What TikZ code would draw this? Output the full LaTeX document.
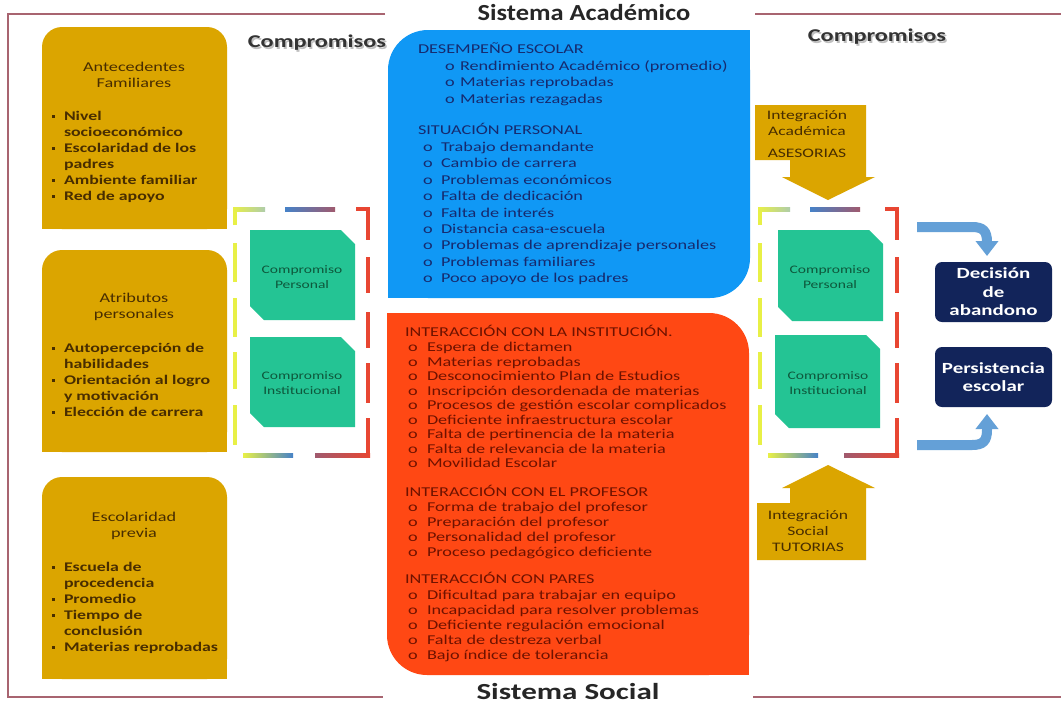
\documentclass[tikz,border=0pt]{standalone}
\usepackage{fontspec}
\setmainfont{Carlito}
\newfontfamily\bodyf{Carlito}[FakeStretch=1.35]
\newfontfamily\headf{Carlito}[FakeStretch=1.15]
\usetikzlibrary{arrows.meta}
\definecolor{goldc}{RGB}{219,165,0}
\definecolor{goldtext}{RGB}{72,45,0}
\definecolor{bluec}{RGB}{16,152,245}
\definecolor{bluetext}{RGB}{22,42,110}
\definecolor{redc}{RGB}{255,72,20}
\definecolor{redtext}{RGB}{110,18,0}
\definecolor{greenc}{RGB}{36,196,148}
\definecolor{greentext}{RGB}{14,88,60}
\definecolor{navyc}{RGB}{18,36,90}
\definecolor{arrowc}{RGB}{100,160,215}
\definecolor{framec}{RGB}{168,100,112}
\definecolor{dyel}{RGB}{232,240,70}
\definecolor{dred}{RGB}{232,70,50}
\definecolor{dblue}{RGB}{70,130,200}
\definecolor{dmauve}{RGB}{160,90,110}
\definecolor{dgg}{RGB}{175,205,170}
\definecolor{dcyan}{RGB}{120,200,210}
\tikzset{
  every node/.style={inner sep=0pt, outer sep=0pt},
  goldtxt/.style={text=goldtext, font=\bodyf\bfseries\fontsize{13.2}{15}\selectfont, anchor=base west},
  goldbul/.style={fill=goldtext, minimum size=3.6pt},
  goldtitle/.style={text=goldtext, font=\bodyf\fontsize{13.5}{16.5}\selectfont, align=center},
  bluetxt/.style={text=bluetext, font=\bodyf\fontsize{13.5}{15}\selectfont, anchor=base west},
  redtxt/.style={text=redtext, font=\bodyf\fontsize{13.5}{15}\selectfont, anchor=base west},
  greentxt/.style={text=greentext, font=\bodyf\fontsize{11.5}{14.5}\selectfont, align=center},
  calltxt/.style={text=goldtext, font=\bodyf\fontsize{13}{16}\selectfont, align=center},
  navybox/.style={fill=navyc, rounded corners=7pt, minimum width=117pt, minimum height=60pt,
     text=white, font=\bodyf\bfseries\fontsize{15.5}{18.5}\selectfont, align=center},
  bigtitle/.style={font=\headf\bfseries\fontsize{23}{26}\selectfont, text=black!85},
  comptitle/.style={font=\bodyf\bfseries\fontsize{18}{20}\selectfont, text=black!80},
  blarrow/.style={draw=arrowc, line width=10pt, -{Triangle[width=22pt,length=15pt]}},
  dashln/.style={line width=4pt},
}
\newcommand\goldlines[3]{%
  \foreach \t/\b [count=\i] in {#3} {
    \node[goldtxt] (#1\i) at (64,{#2+16*(\i-1)+4.5}) {\t};
    \ifnum\b=1 \node[goldbul] (#1b\i) at (53.5,{#2+16*(\i-1)+0.5}) {};\fi
  }}
\newcommand\olist[7]{%
  \foreach \t [count=\i] in {#6} {
    \node[#7] (#1\i) at (#3,{#4+#5*(\i-1)+4.5}) {\t};
    \node[#7] (#1o\i) at (#2,{#4+#5*(\i-1)+4.5}) {o};
  }}
\newcommand\gshape[4]{%
  \fill[greenc] (#1,#2) -- ({#3-14},#2) -- (#3,{#2+14}) -- (#3,#4) -- ({#1+14},#4) -- (#1,{#4-14}) -- cycle;}
\begin{document}
\begin{tikzpicture}[x=1pt,y=-1pt]
\useasboundingbox (0,0) rectangle (1061,705);
\fill[white] (0,0) rectangle (1061,705);

% outer frame
\draw[framec, line width=2.5pt] (385,14) -- (8,14) -- (8,697) -- (383,697);
\draw[framec, line width=2.5pt] (755,14) -- (1061,14);
\draw[framec, line width=2.5pt] (753,697) -- (1061,697);
\node[bigtitle] (tacad) at (584,13) {Sistema Académico};
\node[bigtitle, font=\bodyf\bfseries\fontsize{23}{26}\selectfont] (tsoc) at (568,691.5) {Sistema Social};

% gold boxes
\foreach \n/\y in {g1/27, g2/250, g3/477} {
  \node[fill=goldc, rounded corners=20pt, minimum width=185pt, minimum height=202pt, anchor=north west] (\n) at (42,\y) {};
  \fill[goldc] (\n.west) rectangle (\n.south east);
}
\node[goldtitle] (g1t) at (134,75) {Antecedentes\\Familiares};
\goldlines{ga}{116}{Nivel/1, socioeconómico/0, Escolaridad de los/1, padres/0, Ambiente familiar/1, Red de apoyo/1}
\node[goldtitle] (g2t) at (134,307) {Atributos\\personales};
\goldlines{gb}{348}{Autopercepción de/1, habilidades/0, Orientación al logro/1, y motivación/0, Elección de carrera/1}
\node[goldtitle] (g3t) at (134,526) {Escolaridad\\previa};
\goldlines{gc}{567}{Escuela de/1, procedencia/0, Promedio/1, Tiempo de/1, conclusión/0, Materias reprobadas/1}

% Compromisos labels
\node[comptitle, text=black!25] (c1s) at (318.5,44.5) {Compromisos};
\node[comptitle] (c1) at (317,43) {Compromisos};
\node[comptitle, text=black!25] (c2s) at (878.5,38.5) {Compromisos};
\node[comptitle] (c2) at (877,37) {Compromisos};

% blue box
\node[fill=bluec, rounded corners=40pt, minimum width=362pt, minimum height=268pt, anchor=north west] (blue) at (388,30) {};
\fill[bluec] (blue.north) rectangle (blue.east);
\fill[bluec] (blue.west) rectangle (blue.south);
\node[bluetxt] (bh1) at (418,53.5) {DESEMPEÑO ESCOLAR};
\olist{ba}{445}{460}{66}{16.3}{Rendimiento Académico (promedio), Materias reprobadas, Materias rezagadas}{bluetxt}
\node[bluetxt] (bh2) at (418,134.5) {SITUACIÓN PERSONAL};
\olist{bb}{423}{441}{147}{16.4}{Trabajo demandante, Cambio de carrera, Problemas económicos, Falta de dedicación, Falta de interés, Distancia casa-escuela, Problemas de aprendizaje personales, Problemas familiares, Poco apoyo de los padres}{bluetxt}

% red box
\node[fill=redc, rounded corners=40pt, minimum width=362pt, minimum height=362pt, anchor=north west] (red) at (387,313) {};
\fill[redc] (red.north) rectangle (red.west);
\fill[redc] (red.south) rectangle (red.east);
\node[redtxt] (rh1) at (405,336) {INTERACCIÓN CON LA INSTITUCIÓN.};
\olist{ra}{408}{427}{347}{14.5}{Espera de dictamen, Materias reprobadas, Desconocimiento Plan de Estudios, Inscripción desordenada de materias, Procesos de gestión escolar complicados, Deficiente infraestructura escolar, Falta de pertinencia de la materia, Falta de relevancia de la materia, Movilidad Escolar}{redtxt}
\node[redtxt] (rh2) at (405,496.5) {INTERACCIÓN CON EL PROFESOR};
\olist{rb}{408}{427}{507}{15}{Forma de trabajo del profesor, Preparación del profesor, Personalidad del profesor, Proceso pedagógico deficiente}{redtxt}
\node[redtxt] (rh3) at (405,583) {INTERACCIÓN CON PARES};
\olist{rc}{408}{427}{595}{15}{Dificultad para trabajar en equipo, Incapacidad para resolver problemas, Deficiente regulación emocional, Falta de destreza verbal, Bajo índice de tolerancia}{redtxt}

% dashed frames
\foreach \x/\w in {235/133, 760/137} {
  \draw[dyel, dashln] (\x,225) -- (\x,209);
  \shade[left color=dyel, right color=dgg] (\x-2,207) rectangle (\x+30,211);
  \shade[left color=dblue, right color=dmauve] (\x+50,207) rectangle (\x+100,211);
  \draw[dred, dashln] (\x+\w-12,209) -- (\x+\w,209) -- (\x+\w,240);
  \foreach \a/\b in {257/293, 312/348, 363/403} { \draw[dred, dashln] (\x+\w,\a) -- (\x+\w,\b); }
  \draw[dred, dashln] (\x+\w,418) -- (\x+\w,455);
  \shade[left color=dmauve, right color=dred] (\x+\w-53,453) rectangle (\x+\w+2,457);
  \shade[left color=dyel, middle color=dcyan, right color=dblue] (\x+8,453) rectangle (\x+58,457);
  \foreach \a/\b in {243/282, 298/337, 352/389, 405/445} { \draw[dyel, dashln] (\x,\a) -- (\x,\b); }
}

% green boxes
\gshape{250}{230}{355}{320}
\node[greentxt] (lp) at (302,277) {Compromiso\\Personal};
\gshape{250}{337}{355}{427}
\node[greentxt] (li) at (302,383) {Compromiso\\Institucional};
\gshape{778}{230}{883}{321}
\node[greentxt] (rp) at (830,277) {Compromiso\\Personal};
\gshape{775}{335}{880}{428}
\node[greentxt] (ri) at (828,383) {Compromiso\\Institucional};

% callouts
\fill[goldc] (755,105) -- (866,105) -- (866,177) -- (875,177) -- (828,200) -- (782,177) -- (790,177) -- (790,160) -- (755,160) -- cycle;
\node[calltxt] (ia) at (807,123) {Integración\\Académica};
\node[calltxt] (ias) at (807,153) {ASESORIAS};
\fill[goldc] (757,560) -- (757,503) -- (790,503) -- (790,488) -- (782,488) -- (828,465) -- (875,488) -- (866,488) -- (866,560) -- cycle;
\node[calltxt] (is) at (808,531) {Integración\\Social\\TUTORIAS};

% outcome boxes
\node[navybox] (dec) at (993.5,292) {Decisión\\de\\abandono};
\node[navybox] (per) at (993.5,377) {Persistencia\\escolar};

% blue arrows
\coordinate (a1) at (917,227);
\coordinate (a2) at (917,445);
\draw[blarrow] (a1) -- (972,227) .. controls (983,227) and (987,231) .. (987,242) -- ([yshift=6pt]dec.north -| 987,0);
\draw[blarrow] (a2) -- (972,445) .. controls (983,445) and (987,441) .. (987,430) -- ([yshift=-7pt]per.south -| 987,0);
\end{tikzpicture}
\end{document}
